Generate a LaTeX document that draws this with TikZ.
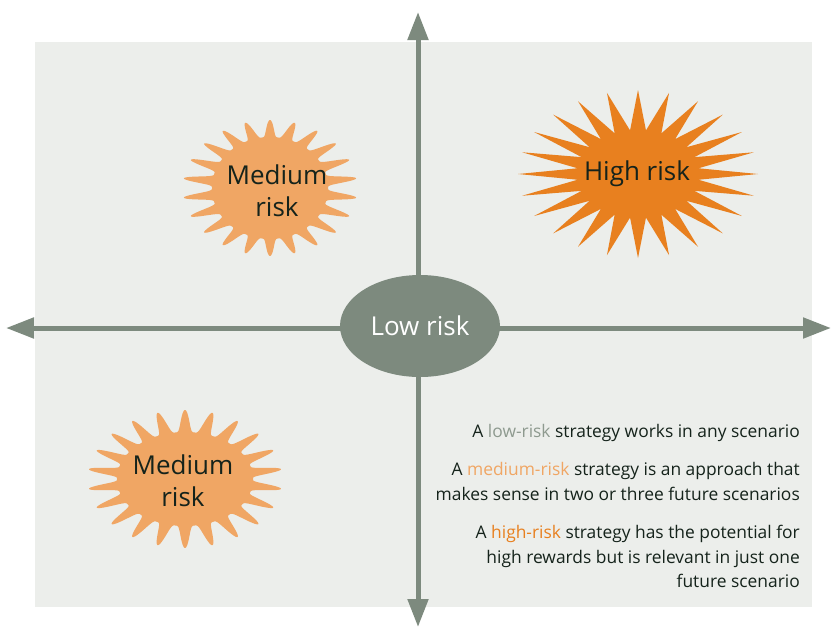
\documentclass[tikz,border=0pt]{standalone}
\usepackage{fontspec}
\setmainfont{Open Sans}
\usetikzlibrary{arrows.meta,shapes.geometric}
\definecolor{bgc}{HTML}{ECEEEB}
\definecolor{axisc}{HTML}{7D8A7E}
\definecolor{medc}{HTML}{F0A664}
\definecolor{highc}{HTML}{E8801F}
\definecolor{inkc}{HTML}{15231B}
\definecolor{lowtxt}{HTML}{8E9A8F}
\newcommand\softstar[8]{% cx cy irx iry orx ory n colour
  \fill[#8] plot[domain=0:360,samples=720,variable=\t]
    ({#1+(#3+(#5-#3)*((1+cos(#7*(\t-90)))/2)^2)*cos(\t)},
     {#2+(#4+(#6-#4)*((1+cos(#7*(\t-90)))/2)^2)*sin(\t)}) -- cycle;}
\begin{document}
\begin{tikzpicture}[x=1pt,y=-1pt,
  axisline/.style={draw=axisc,line width=5pt,
    {Triangle[length=28pt,width=20pt]}-{Triangle[length=28pt,width=20pt]}},
  bigtext/.style={font=\fontsize{26}{32}\selectfont,text=inkc,align=center,inner sep=0pt},
  desc/.style={font=\fontsize{17.4}{25}\selectfont,text=inkc,anchor=base east,inner sep=0pt}]
\useasboundingbox[fill=white] (0,0) rectangle (832,630);
\fill[bgc] (35,42) rectangle (812,607);
% axes
\coordinate (top) at (418,12);
\coordinate (bot) at (418,627);
\coordinate (lft) at (6,328);
\coordinate (rgt) at (831,328);
\draw[axisline] (top) -- (bot);
\draw[axisline] (lft) -- (rgt);
% centre
\node[ellipse,fill=axisc,minimum width=160pt,minimum height=102pt,inner sep=0pt,
  font=\fontsize{26}{32}\selectfont,text=white] (low) at (420,326) {Low risk};
% starbursts
\softstar{270}{188}{58}{51}{87}{68}{22}{medc}
\softstar{185}{479}{68}{47}{97}{69}{22}{medc}
\fill[highc] plot[domain=0:360,samples=49,variable=\t]
  ({638+(61+59*(1-mod(round(\t/7.5),2)))*cos(\t)},
   {174+(44+40*(1-mod(round(\t/7.5),2)))*sin(\t)}) -- cycle;
\node[bigtext] (medtop) at (277,191) {Medium\\risk};
\node[bigtext] (medbot) at (183,481) {Medium\\risk};
\node[bigtext] (high) at (637,174) {High risk};
% description
\node[desc] (d1) at (800,437) {A \textcolor{lowtxt}{low-risk} strategy works in any scenario};
\node[desc] (d2) at (800,475) {A \textcolor{medc}{medium-risk} strategy is an approach that};
\node[desc] (d3) at (800,500) {makes sense in two or three future scenarios};
\node[desc] (d4) at (800,538) {A \textcolor{highc}{high-risk} strategy has the potential for};
\node[desc] (d5) at (800,563) {high rewards but is relevant in just one};
\node[desc] (d6) at (800,587) {future scenario};
\end{tikzpicture}
\end{document}
